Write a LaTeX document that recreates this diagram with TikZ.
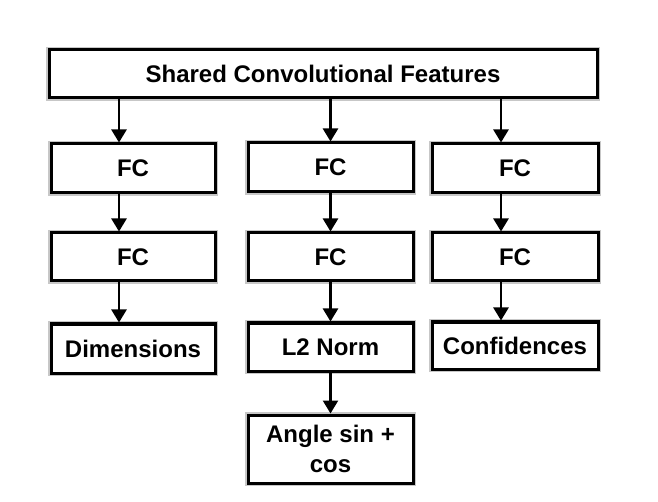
\documentclass[tikz,border=0pt]{standalone}
\usepackage{fontspec}
\setmainfont{Liberation Sans}
\usetikzlibrary{arrows.meta,calc}
\begin{document}
\begin{tikzpicture}[x=1pt,y=-1pt,
  box/.style={draw=black, line width=3pt, fill=white, rectangle, inner sep=0pt,
    font=\bfseries\fontsize{24}{30}\selectfont, align=center,
    preaction={draw=black!22, line width=6pt}},
  arr/.style={line width=2.5pt, -{Triangle[width=15pt,length=13pt]}}]
\useasboundingbox (0,0) rectangle (658,502);
\fill[white] (0,0) rectangle (658,502);
\node[box, minimum width=548pt, minimum height=48pt] (top) at (323,74) {Shared Convolutional Features};
% left column
\node[box, minimum width=164pt, minimum height=49pt] (l1) at (133,168.5) {FC};
\node[box, minimum width=164pt, minimum height=48pt] (l2) at (133,257) {FC};
\node[box, minimum width=164pt, minimum height=49pt] (l3) at (133,348.5) {Dimensions};
% middle column
\node[box, minimum width=165pt, minimum height=49pt] (m1) at (330.5,167.5) {FC};
\node[box, minimum width=165pt, minimum height=48pt] (m2) at (330.5,257) {FC};
\node[box, minimum width=165pt, minimum height=48pt] (m3) at (330.5,347) {L2 Norm};
\node[box, minimum width=165pt, minimum height=68pt] (m4) at (330.5,449) {Angle sin +\\cos};
% right column
\node[box, minimum width=166pt, minimum height=49pt] (r1) at (515,168.5) {FC};
\node[box, minimum width=166pt, minimum height=48pt] (r2) at (515,257) {FC};
\node[box, minimum width=166pt, minimum height=47pt] (r3) at (515,345.5) {Confidences};
% arrows
\draw[arr] ([xshift=-14pt]l1.north |- top.south) -- ([xshift=-14pt]l1.north);
\draw[arr] ([xshift=-14pt]l1.south) -- ([xshift=-14pt]l2.north);
\draw[arr] ([xshift=-14pt]l2.south) -- ([xshift=-14pt]l3.north);
\draw[arr] (m1.north |- top.south) -- (m1.north);
\draw[arr] (m1.south) -- (m2.north);
\draw[arr] (m2.south) -- (m3.north);
\draw[arr] (m3.south) -- (m4.north);
\draw[arr] ([xshift=-14pt]r1.north |- top.south) -- ([xshift=-14pt]r1.north);
\draw[arr] ([xshift=-14pt]r1.south) -- ([xshift=-14pt]r2.north);
\draw[arr] ([xshift=-14pt]r2.south) -- ([xshift=-14pt]r3.north);
\end{tikzpicture}
\end{document}
